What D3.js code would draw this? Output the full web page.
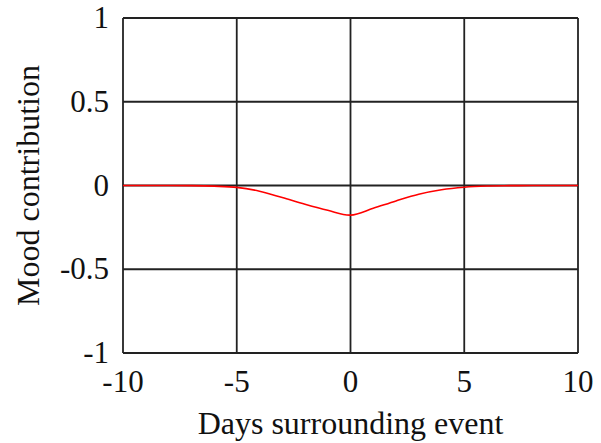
<!DOCTYPE html>
<html>
<head>
<meta charset="UTF-8">
<script src="https://d3js.org/d3.v7.min.js"></script>
<style>
  body { margin: 0; background: #fff; }
  svg text { font-family: "Liberation Serif", "Times New Roman", serif; fill: #111; }
</style>
</head>
<body>
<svg id="chart" width="601" height="443"></svg>
<script>
// days around the event and the estimated mood contribution
var days = [-10, -9, -8, -7, -6, -5, -4, -3, -2, -1, 0, 1, 2, 3, 4, 5, 6, 7, 8, 9, 10];
var mood = [0, 0, 0, -0.001, -0.004, -0.011, -0.034, -0.072, -0.112, -0.148, -0.177,
            -0.136, -0.092, -0.052, -0.025, -0.01, -0.003, -0.001, 0, 0, 0];
var xTicks = [-10, -5, 0, 5, 10];
var yTicks = [-1, -0.5, 0, 0.5, 1];

var svg = d3.select("#chart");
var margin = {left: 123, right: 23, top: 18, bottom: 90};
var width = 601 - margin.left - margin.right,
    height = 443 - margin.top - margin.bottom;

var x = d3.scaleLinear().domain([-10, 10]).range([margin.left, margin.left + width]);
var y = d3.scaleLinear().domain([-1, 1]).range([margin.top + height, margin.top]);

// grid
svg.append("g").selectAll("line").data(xTicks).enter().append("line")
  .attr("x1", function(d) { return x(d); }).attr("x2", function(d) { return x(d); })
  .attr("y1", y(-1)).attr("y2", y(1))
  .attr("stroke", "#222").attr("stroke-width", 1.8);
svg.append("g").selectAll("line").data(yTicks).enter().append("line")
  .attr("y1", function(d) { return y(d); }).attr("y2", function(d) { return y(d); })
  .attr("x1", x(-10)).attr("x2", x(10))
  .attr("stroke", "#222").attr("stroke-width", 1.8);

// tick labels
svg.append("g").selectAll("text").data(xTicks).enter().append("text")
  .attr("x", function(d) { return x(d); })
  .attr("y", 392)
  .attr("text-anchor", "middle")
  .attr("font-size", 31)
  .text(function(d) { return d; });
svg.append("g").selectAll("text").data(yTicks).enter().append("text")
  .attr("x", 109)
  .attr("y", function(d) { return y(d) + 10; })
  .attr("text-anchor", "end")
  .attr("font-size", 31)
  .text(function(d) { return d; });

// axis titles
svg.append("text")
  .attr("x", x(0)).attr("y", 434)
  .attr("text-anchor", "middle").attr("font-size", 32)
  .text("Days surrounding event");
svg.append("text")
  .attr("transform", "translate(39," + y(0) + ") rotate(-90)")
  .attr("text-anchor", "middle").attr("font-size", 32)
  .text("Mood contribution");

// series
var line = d3.line()
  .x(function(d, i) { return x(days[i]); })
  .y(function(d) { return y(d); })
  .curve(d3.curveCatmullRom.alpha(0.5));
svg.append("path")
  .datum(mood)
  .attr("d", line)
  .attr("fill", "none")
  .attr("stroke", "#ff0000")
  .attr("stroke-width", 1.6);
</script>
</body>
</html>
